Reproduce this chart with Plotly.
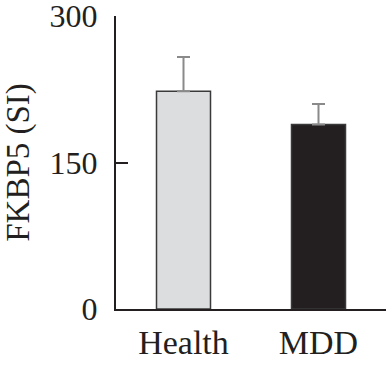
import plotly.graph_objects as go

categories = ["Health", "MDD"]
values = [223, 189]
errors_up = [35, 21]
bar_colors = ["#dcdddf", "#231f20"]
y_ticks = [0, 150, 300]
y_title = "FKBP5 (SI)"

FONT = "Liberation Serif, Times New Roman, serif"
INK = "#231f20"

fig = go.Figure(go.Bar(
    x=categories,
    y=values,
    width=0.4,
    marker=dict(color=bar_colors, line=dict(color="#3a3a3a", width=1.5)),
    error_y=dict(type="data", array=errors_up, arrayminus=[0, 0], symmetric=False,
                 color="#8a8a8a", thickness=2, width=6.5),
    hoverinfo="skip",
))

fig.update_layout(
    width=386, height=368,
    margin=dict(l=116, r=0, t=16, b=59),
    paper_bgcolor="white", plot_bgcolor="white",
    font=dict(family=FONT, size=33, color=INK),
    showlegend=False,
    bargap=0.6,
)
fig.update_xaxes(
    range=[-0.5, 1.5], showline=True, linecolor=INK, linewidth=2,
    ticks="", showgrid=False, zeroline=False, automargin=False,
    tickfont=dict(family=FONT, size=34, color=INK), ticklabelstandoff=2,
    ticklabeloverflow="allow",
)
fig.update_yaxes(
    range=[0, 300], tickvals=y_ticks, ticktext=[str(v) for v in y_ticks],
    showline=True, linecolor=INK, linewidth=2,
    ticks="inside", ticklen=12, tickwidth=2, tickcolor=INK,
    showgrid=False, zeroline=False, automargin=False,
    tickfont=dict(family=FONT, size=32, color=INK), ticklabelstandoff=10,
    ticklabeloverflow="allow",
    title=dict(text=y_title, font=dict(family=FONT, size=33, color=INK), standoff=16),
)

# remove the page's default body margin so the 386x368 figure fills the window
fig.write_html(
    "out.html",
    config={"displayModeBar": False, "staticPlot": True},
    post_script="document.body.style.margin='0';document.body.style.overflow='hidden';",
)
